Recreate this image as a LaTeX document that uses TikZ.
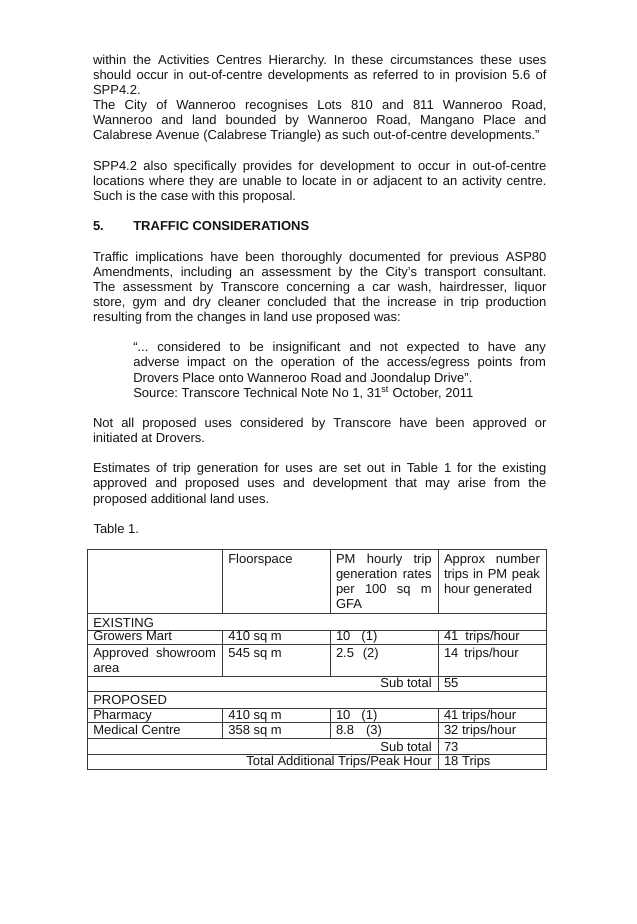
\documentclass[tikz,border=0pt]{standalone}
\usepackage{fontspec}
\setmainfont{Liberation Sans}
\definecolor{ink}{gray}{0.08}
\definecolor{rulec}{gray}{0.22}
\newcommand{\bodyfont}{\fontsize{13}{15.13}\selectfont\frenchspacing\hyphenpenalty=10000 \exhyphenpenalty=10000 \tolerance=10000 }
\newcommand{\cellfont}{\fontsize{13}{15}\selectfont\frenchspacing\hyphenpenalty=10000 \exhyphenpenalty=10000 \tolerance=10000 }
\begin{document}
\begin{tikzpicture}[x=1pt,y=-1pt,
  txt/.style={anchor=base west, inner sep=0pt, outer sep=0pt, text=ink, font=\bodyfont},
  para/.style={txt, text width=453.5pt, align=justify},
  quotepara/.style={txt, text width=412.7pt, align=justify},
  ctxt/.style={txt, font=\cellfont},
  hcell/.style={ctxt, text width=95.7pt, align=justify},
  rcell/.style={anchor=base east, inner sep=0pt, outer sep=0pt, text=ink, font=\cellfont},
  hdr/.style={txt, font=\bodyfont\bfseries},
  tline/.style={draw=rulec, line width=1pt}
]
\fill[white] (0,0) rectangle (637,924);
\useasboundingbox (0,0) rectangle (637,924);

% ---- body text ----
\node[para] (p1) at (93,64.3) {within the Activities Centres Hierarchy. In these circumstances these uses\linebreak should occur in out-of-centre developments as referred to in provision 5.6 of\linebreak SPP4.2.\par The City of Wanneroo recognises Lots 810 and 811 Wanneroo Road,\linebreak Wanneroo and land bounded by Wanneroo Road, Mangano Place and\linebreak Calabrese Avenue (Calabrese Triangle) as such out-of-centre developments.”};

\node[para] (p2) at (93,170.6) {SPP4.2 also specifically provides for development to occur in out-of-centre\linebreak locations where they are unable to locate in or adjacent to an activity centre.\linebreak Such is the case with this proposal.};

\node[hdr] (hnum) at (93,230.7) {5.};
\node[hdr] (htitle) at (133.3,230.7) {TRAFFIC CONSIDERATIONS};

\node[para] (p3) at (93,261) {Traffic implications have been thoroughly documented for previous ASP80\linebreak Amendments, including an assessment by the City’s transport consultant.\linebreak The assessment by Transcore concerning a car wash, hairdresser, liquor\linebreak store, gym and dry cleaner concluded that the increase in trip production\linebreak resulting from the changes in land use proposed was:};

\node[quotepara] (q) at (133.3,351.8) {“... considered to be insignificant and not expected to have any\linebreak adverse impact on the operation of the access/egress points from\linebreak Drovers Place onto Wanneroo Road and Joondalup Drive”.\par Source: Transcore Technical Note No 1, 31\textsuperscript{st} October, 2011};

\node[para] (p4) at (93,427.4) {Not all proposed uses considered by Transcore have been approved or\linebreak initiated at Drovers.};

\node[para] (p5) at (93,472.8) {Estimates of trip generation for uses are set out in Table 1 for the existing\linebreak approved and proposed uses and development that may arise from the\linebreak proposed additional land uses.};

\node[txt] (tcap) at (93.5,533.3) {Table 1.};

% ---- table grid ----
\draw[tline] (87,549) rectangle (546.5,769.3);
\foreach \yy in {613.3,630.7,644,676.7,691,708,722.5,738.5,754.5}
  \draw[tline] (87,\yy) -- (546.5,\yy);
\foreach \xx in {222,330}{
  \draw[tline] (\xx,549) -- (\xx,613.3);
  \draw[tline] (\xx,630.7) -- (\xx,676.7);
  \draw[tline] (\xx,708) -- (\xx,738.5);
}
\draw[tline] (438.3,549) -- (438.3,613.3);
\draw[tline] (438.3,630.7) -- (438.3,691);
\draw[tline] (438.3,708) -- (438.3,769.3);

% ---- table text ----
\node[ctxt] (hfl) at (228.3,563) {Floorspace};
\node[hcell] (hpm) at (336,563) {PM hourly trip\linebreak generation rates\linebreak per 100 sq m\linebreak GFA};
\node[hcell, text width=96pt] (hap) at (444,563) {Approx number\linebreak trips in PM peak\linebreak hour generated};

\node[ctxt] (ex) at (93.3,627) {EXISTING};

\node[ctxt] (gm) at (93.3,640.5) {Growers Mart};
\node[ctxt] (gmf) at (228.3,640.5) {410 sq m};
\node[ctxt] (gmr) at (336,640.5) {10\hspace{11pt}(1)};
\node[ctxt] (gmt) at (444,640.5) {41\hspace{7pt}trips/hour};

\node[ctxt, text width=122.7pt, align=justify] (as) at (93.3,657) {Approved showroom\linebreak area};
\node[ctxt] (asf) at (228.3,657) {545 sq m};
\node[ctxt] (asr) at (336,657) {2.5\hspace{8.7pt}(2)};
\node[ctxt] (ast) at (444,657) {14\hspace{6pt}trips/hour};

\node[rcell] (st1) at (431.7,687.5) {Sub total};
\node[ctxt] (st1v) at (444,687.5) {55};

\node[ctxt] (pr) at (93.3,704.3) {PROPOSED};

\node[ctxt] (ph) at (93.3,719) {Pharmacy};
\node[ctxt] (phf) at (228.3,719) {410 sq m};
\node[ctxt] (phr) at (336,719) {10\hspace{11pt}(1)};
\node[ctxt] (pht) at (444,719) {41 trips/hour};

\node[ctxt] (mc) at (93.3,734.8) {Medical Centre};
\node[ctxt] (mcf) at (228.3,734.8) {358 sq m};
\node[ctxt] (mcr) at (336,734.8) {8.8\hspace{12pt}(3)};
\node[ctxt] (mct) at (444,734.8) {32 trips/hour};

\node[rcell] (st2) at (431.7,751) {Sub total};
\node[ctxt] (st2v) at (444,751) {73};

\node[rcell] (tot) at (431.7,765.8) {Total Additional Trips/Peak Hour};
\node[ctxt] (totv) at (444,765.8) {18 Trips};
\end{tikzpicture}
\end{document}
